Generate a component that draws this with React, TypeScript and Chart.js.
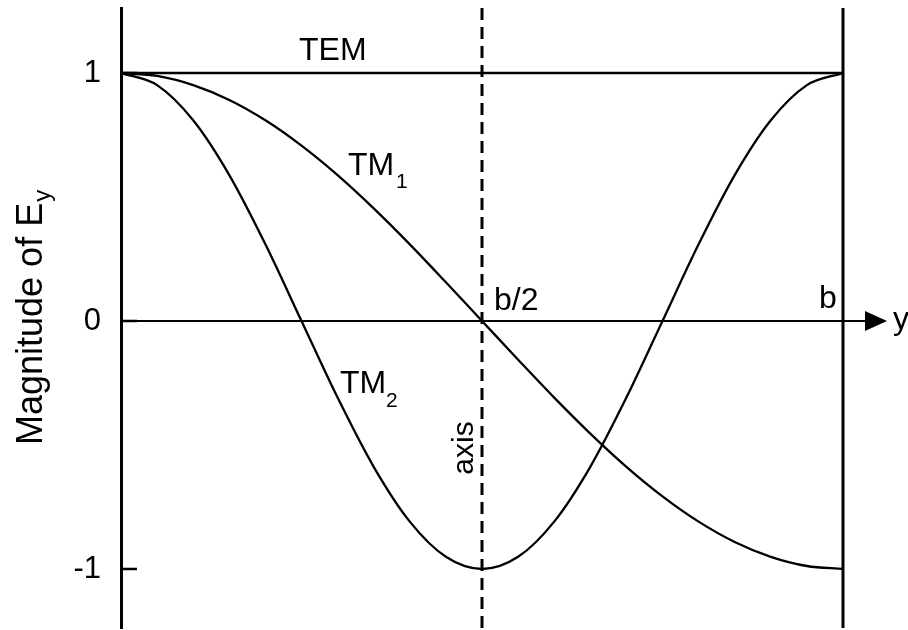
import React, { useEffect, useRef } from "react";
import { Chart, registerables } from "chart.js";

Chart.register(...registerables);

// position along y as a fraction of b (0 .. b)
const positions = [0, 0.05, 0.1, 0.15, 0.2, 0.25, 0.3, 0.35, 0.4, 0.45, 0.5, 0.55, 0.6, 0.65, 0.7, 0.75, 0.8, 0.85, 0.9, 0.95, 1];
const temValues = [1, 1, 1, 1, 1, 1, 1, 1, 1, 1, 1, 1, 1, 1, 1, 1, 1, 1, 1, 1, 1];
const tm1Values = [1, 0.988, 0.951, 0.891, 0.809, 0.707, 0.588, 0.454, 0.309, 0.156, 0, -0.156, -0.309, -0.454, -0.588, -0.707, -0.809, -0.891, -0.951, -0.988, -1];
const tm2Values = [1, 0.951, 0.809, 0.588, 0.309, 0, -0.309, -0.588, -0.809, -0.951, -1, -0.951, -0.809, -0.588, -0.309, 0, 0.309, 0.588, 0.809, 0.951, 1];
const yTicks = [-1, 0, 1];
const yAxisTitle = "Magnitude of E";
const yAxisTitleSub = "y";
const xAxisName = "y";
const axisLabel = "axis";
const midLabel = "b/2";
const endLabel = "b";

const FONT = "'Liberation Sans', Arial, Helvetica, sans-serif";

const extras = {
  id: "extras",
  afterDatasetsDraw(chart: any) {
    const { ctx, chartArea } = chart;
    const xs = chart.scales.x;
    const ys = chart.scales.y;
    const x0 = xs.getPixelForValue(0);
    const xMid = xs.getPixelForValue(0.5);
    const xEnd = xs.getPixelForValue(1);
    const yZero = ys.getPixelForValue(0);
    ctx.save();
    ctx.strokeStyle = "#000";
    ctx.fillStyle = "#000";

    // right boundary line at b
    ctx.lineWidth = 3;
    ctx.beginPath();
    ctx.moveTo(xEnd, chartArea.top);
    ctx.lineTo(xEnd, chartArea.bottom);
    ctx.stroke();

    // inner tick marks
    ctx.lineWidth = 2.5;
    yTicks.forEach((v) => {
      const p = ys.getPixelForValue(v);
      ctx.beginPath();
      ctx.moveTo(x0, p);
      ctx.lineTo(x0 + 16, p);
      ctx.stroke();
    });

    // zero axis with arrow
    const arrowTip = xEnd + 44;
    const arrowBase = xEnd + 22;
    ctx.lineWidth = 2.2;
    ctx.beginPath();
    ctx.moveTo(x0, yZero);
    ctx.lineTo(arrowBase + 2, yZero);
    ctx.stroke();
    ctx.beginPath();
    ctx.moveTo(arrowTip, yZero);
    ctx.lineTo(arrowBase, yZero - 10);
    ctx.lineTo(arrowBase, yZero + 10);
    ctx.closePath();
    ctx.fill();

    // dashed centre line
    ctx.lineWidth = 3;
    ctx.setLineDash([12, 7]);
    ctx.beginPath();
    ctx.moveTo(xMid, chartArea.top);
    ctx.lineTo(xMid, chart.height);
    ctx.stroke();
    ctx.setLineDash([]);

    // text labels
    ctx.textBaseline = "alphabetic";
    ctx.textAlign = "left";
    ctx.font = `32px ${FONT}`;
    ctx.fillText("TEM", 299, 60);
    ctx.fillText("TM", 348, 175);
    ctx.fillText("TM", 340, 393);
    ctx.fillText(midLabel, xMid + 12, 310);
    ctx.fillText(endLabel, xEnd - 24, 308);
    ctx.fillText(xAxisName, arrowTip + 6, yZero + 8);
    ctx.font = `21px ${FONT}`;
    ctx.fillText("1", 396, 188);
    ctx.fillText("2", 386, 407);

    // rotated "axis"
    ctx.save();
    ctx.translate(xMid - 9, 448);
    ctx.rotate(-Math.PI / 2);
    ctx.textAlign = "center";
    ctx.font = `30px ${FONT}`;
    ctx.fillText(axisLabel, 0, 0);
    ctx.restore();

    // y axis title with subscript
    ctx.save();
    ctx.translate(42, 445);
    ctx.rotate(-Math.PI / 2);
    ctx.textAlign = "left";
    ctx.font = `36px ${FONT}`;
    ctx.fillText(yAxisTitle, 0, 0);
    const w = ctx.measureText(yAxisTitle).width;
    ctx.font = `24px ${FONT}`;
    ctx.fillText(yAxisTitleSub, w + 1, 8);
    ctx.restore();

    ctx.restore();
  },
};

export default function App() {
  const ref = useRef<HTMLCanvasElement>(null);
  useEffect(() => {
    if (!ref.current) return;
    const mk = (vals: number[]) => positions.map((x, i) => ({ x, y: vals[i] }));
    const base = {
      borderColor: "#000",
      borderWidth: 2.3,
      pointRadius: 0,
      fill: false,
      cubicInterpolationMode: "monotone" as const,
    };
    const chart = new Chart(ref.current, {
      type: "line",
      data: {
        datasets: [
          { label: "TEM", data: mk(temValues), ...base },
          { label: "TM1", data: mk(tm1Values), ...base },
          { label: "TM2", data: mk(tm2Values), ...base },
        ],
      },
      options: {
        responsive: false,
        animation: false,
        layout: { padding: { left: 0, right: 65, top: 8, bottom: 2 } },
        plugins: { legend: { display: false }, tooltip: { enabled: false } },
        scales: {
          x: { type: "linear", min: 0, max: 1, display: false },
          y: {
            type: "linear",
            min: -1.238,
            max: 1.262,
            afterBuildTicks: (s: any) => {
              s.ticks = yTicks.map((v) => ({ value: v }));
            },
            afterFit: (s: any) => {
              s.width = 121;
              s.paddingTop = 0;
              s.paddingBottom = 0;
            },
            grid: { display: true, drawOnChartArea: false, drawTicks: false },
            border: { display: true, color: "#000", width: 3 },
            ticks: {
              color: "#000",
              padding: 20,
              font: { size: 31, family: FONT },
              callback: (v: any) => String(v),
            },
          },
        },
      },
      plugins: [extras],
    });
    return () => chart.destroy();
  }, []);
  return (
    <div style={{ position: "fixed", left: 0, top: 0, width: 908, height: 630, background: "#fff" }}>
      <canvas ref={ref} width={908} height={630} />
    </div>
  );
}
